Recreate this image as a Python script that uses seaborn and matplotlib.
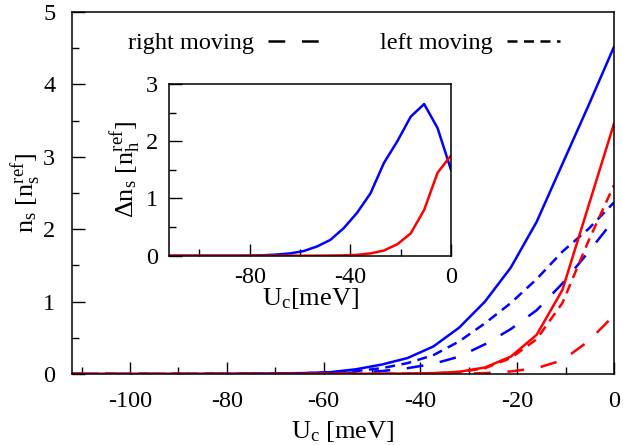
import numpy as np
import pandas as pd
import matplotlib
matplotlib.use("Agg")
import matplotlib.pyplot as plt
from matplotlib.lines import Line2D
from matplotlib.ticker import MultipleLocator
import seaborn as sns

# ---- data ----
u_c = [-112, -106.67, -101.33, -96, -90.67, -85.33, -80, -74.67, -69.33, -64,
       -58.67, -53.33, -48, -42.67, -37.33, -32, -26.67, -21.33, -16, -10.67, -5.33, 0]

blue_total = [0, 0, 0, 0, 0.001, 0.002, 0.003, 0.005, 0.008, 0.013,
              0.025, 0.065, 0.13, 0.22, 0.38, 0.64, 1.0, 1.47, 2.10, 2.90, 3.70, 4.52]
blue_left = [0, 0, 0, 0, 0, 0.001, 0.002, 0.003, 0.005, 0.01,
             0.02, 0.04, 0.08, 0.15, 0.26, 0.45, 0.70, 0.98, 1.31, 1.69, 2.00, 2.37]
blue_right = [0, 0, 0, 0, 0, 0, 0.001, 0.002, 0.004, 0.008,
              0.012, 0.02, 0.04, 0.08, 0.14, 0.24, 0.41, 0.62, 0.88, 1.25, 1.68, 2.13]
red_total = [0, 0, 0, 0, 0, 0, 0, 0, 0, 0.001,
             0.002, 0.003, 0.004, 0.006, 0.012, 0.03, 0.09, 0.24, 0.54, 1.16, 2.31, 3.46]
red_left = [0, 0, 0, 0, 0, 0, 0, 0, 0, 0,
            0.001, 0.002, 0.003, 0.004, 0.008, 0.025, 0.08, 0.22, 0.48, 0.98, 1.83, 2.61]
red_right = [0, 0, 0, 0, 0, 0, 0, 0, 0, 0,
             0, 0, 0.001, 0.002, 0.003, 0.004, 0.012, 0.035, 0.08, 0.19, 0.45, 0.81]

inset_blue = [0, 0, 0, 0, 0, 0, 0.003, 0.008, 0.02, 0.04,
              0.08, 0.16, 0.275, 0.48, 0.75, 1.09, 1.62, 2.0, 2.43, 2.65, 2.23, 1.50]
inset_red = [0, 0, 0, 0, 0, 0, 0, 0, 0, 0,
             0, 0.001, 0.003, 0.006, 0.015, 0.04, 0.09, 0.2, 0.39, 0.80, 1.45, 1.75]

legend_labels = ["right moving", "left moving"]

# ---- style ----
sns.set_style("ticks")
plt.rcParams["font.family"] = ["Liberation Serif", "DejaVu Serif"]
plt.rcParams["mathtext.fontset"] = "custom"
plt.rcParams["mathtext.rm"] = "Liberation Serif"
plt.rcParams["mathtext.it"] = "Liberation Serif:italic"
plt.rcParams["axes.unicode_minus"] = False
plt.rcParams["text.color"] = "black"
plt.rcParams["axes.labelcolor"] = "black"
plt.rcParams["xtick.color"] = "black"
plt.rcParams["ytick.color"] = "black"
FS = 17.5
LFS = 19
plt.rcParams["font.size"] = FS

BLUE = "#0000ff"
RED = "#ff0000"
LW = 1.8
LONG = (0, (6.7, 6.7))
SHORT = (0, (4.0, 2.6))

df = pd.DataFrame({
    "u": u_c,
    "bt": blue_total, "bl": blue_left, "br": blue_right,
    "rt": red_total, "rl": red_left, "rr": red_right,
    "ib": inset_blue, "ir": inset_red,
})

fig = plt.figure(figsize=(6.23, 4.45), dpi=100)
ax = fig.add_axes([0.1156, 0.1596, 0.870, 0.8135])

series = [("bt", BLUE, "-"), ("bl", BLUE, SHORT), ("br", BLUE, LONG),
          ("rt", RED, "-"), ("rl", RED, SHORT), ("rr", RED, LONG)]
for col, c, ls in series:
    sns.lineplot(data=df, x="u", y=col, color=c, linestyle=ls, lw=LW,
                 errorbar=None, ax=ax)

ax.set_xlim(-112, 0)
ax.set_ylim(0, 5)
ax.xaxis.set_major_locator(MultipleLocator(20))
ax.xaxis.set_minor_locator(MultipleLocator(10))
ax.yaxis.set_major_locator(MultipleLocator(1))
ax.yaxis.set_minor_locator(MultipleLocator(0.5))
ax.tick_params(which="both", direction="in", top=False, right=False,
               width=1, labelsize=FS, colors="black")
ax.tick_params(axis="y", which="major", length=9, pad=12)
ax.tick_params(axis="x", which="major", length=9, pad=12)
ax.tick_params(which="minor", length=5)
for s in ax.spines.values():
    s.set_visible(True)
    s.set_linewidth(1.1)
    s.set_color("black")
ax.set_xlabel("U$_\\mathrm{c}$ [meV]", fontsize=LFS, labelpad=5)
ax.set_ylabel("n$_\\mathrm{s}$ [n$_\\mathrm{s}^\\mathrm{ref}$]", fontsize=LFS, labelpad=0)

handles = [Line2D([], [], color="black", lw=LW, linestyle=LONG),
           Line2D([], [], color="black", lw=LW, linestyle=SHORT)]
ax.legend(handles, legend_labels, loc="center left", bbox_to_anchor=(0.103, 0.914),
          ncol=2, frameon=False, markerfirst=False, handlelength=2.2,
          handletextpad=0.58, columnspacing=2.4, borderpad=0, borderaxespad=0,
          fontsize=FS)

# ---- inset ----
ins = fig.add_axes([0.2717, 0.4254, 0.4522, 0.3858])
sns.lineplot(data=df, x="u", y="ib", color=BLUE, lw=LW, errorbar=None, ax=ins)
sns.lineplot(data=df, x="u", y="ir", color=RED, lw=LW, errorbar=None, ax=ins)
ins.set_xlim(-112, 0)
ins.set_ylim(0, 3)
ins.xaxis.set_major_locator(MultipleLocator(40))
ins.xaxis.set_minor_locator(MultipleLocator(20))
ins.yaxis.set_major_locator(MultipleLocator(1))
ins.yaxis.set_minor_locator(MultipleLocator(0.5))
ins.tick_params(which="both", direction="in", top=False, right=False,
                width=1, labelsize=FS, colors="black")
ins.tick_params(which="major", length=9, pad=8)
ins.tick_params(which="minor", length=5)
for s in ins.spines.values():
    s.set_visible(True)
    s.set_linewidth(1.1)
    s.set_color("black")
ins.set_xlabel("U$_\\mathrm{c}$[meV]", fontsize=LFS, labelpad=-1)
ins.set_ylabel("Δn$_\\mathrm{s}$ [n$_\\mathrm{h}^\\mathrm{ref}$]", fontsize=LFS, labelpad=2)

fig.savefig("out.png", dpi=100)
